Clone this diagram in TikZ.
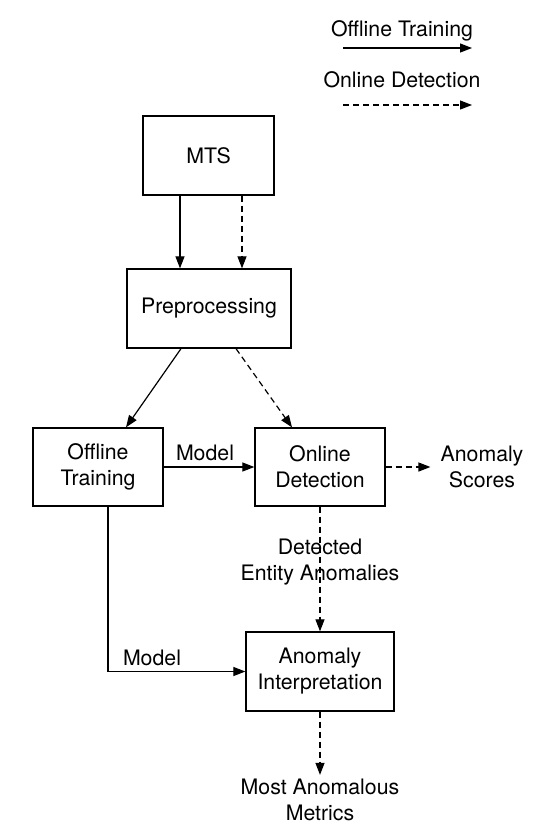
\documentclass[tikz,border=0pt]{standalone}
\usepackage{fontspec}
\setmainfont{TeX Gyre Heros}
\usetikzlibrary{arrows.meta}
\begin{document}
\begin{tikzpicture}[x=1pt,y=-1pt,
  font=\fontsize{21.3}{26}\selectfont,
  box/.style={draw,line width=1.3pt,align=center,inner sep=0pt},
  lbl/.style={align=center,inner sep=0pt},
  conn/.style={line width=1.2pt,-{Triangle[length=12pt,width=9pt]}},
  dconn/.style={conn,dash pattern=on 6pt off 4pt}]
\useasboundingbox (0,0) rectangle (555,839);
% legend
\node[lbl] (lt1) at (402,31) {Offline Training};
\node[lbl] (lt2) at (402,80) {Online Detection};
\coordinate (la1) at (343,48); \coordinate (lb1) at (472,48);
\coordinate (la2) at (343,105); \coordinate (lb2) at (472,105);
\draw[conn] (la1) -- (lb1);
\draw[dconn] (la2) -- (lb2);
% boxes
\node[box,minimum width=131pt,minimum height=79pt] (mts) at (208.5,155.5) {MTS};
\node[box,minimum width=164pt,minimum height=79pt] (prep) at (209,308.5) {Preprocessing};
\node[box,minimum width=130pt,minimum height=78pt] (off) at (98,467) {Offline\\Training};
\node[box,minimum width=130pt,minimum height=78pt] (on) at (320,467) {Online\\Detection};
\node[box,minimum width=148pt,minimum height=79pt] (interp) at (320,671.5) {Anomaly\\Interpretation};
\node[lbl,inner xsep=10pt] (scores) at (482,467) {Anomaly\\Scores};
\node[lbl,inner sep=4pt] (metrics) at (320,800) {Most Anomalous\\Metrics};
\node[lbl] (det) at (320,562) {Detected\\Entity Anomalies};
\node[lbl] (m1) at (205,453) {Model};
\node[lbl] (m2) at (152,658) {Model};
% connectors
\draw[conn] (mts.south -| 180,0) -- (prep.north -| 180,0);
\draw[dconn] (mts.south -| 242,0) -- (prep.north -| 242,0);
\draw[conn] (prep.south -| 181,0) -- (off.north -| 126,0);
\draw[dconn] (prep.south -| 236,0) -- (on.north -| 292,0);
\draw[conn] (off.east) -- (on.west);
\draw[dconn] (on.east) -- (scores.west);
\draw[dconn] (on.south) -- (interp.north);
\draw[conn] (off.south -| 108,0) |- (interp.west);
\draw[dconn] (interp.south) -- (metrics.north);
\end{tikzpicture}
\end{document}
